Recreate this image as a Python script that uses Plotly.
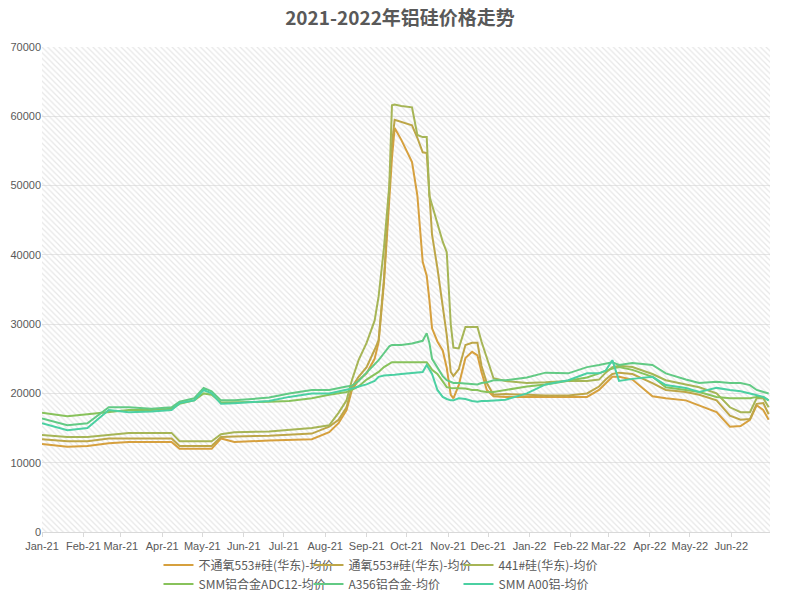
import plotly.graph_objects as go

TITLE = "2021-2022年铝硅价格走势"

DATES = [
    "2021-01-01", "2021-01-20", "2021-02-04", "2021-02-20", "2021-03-07", "2021-03-24",
    "2021-04-08", "2021-04-14", "2021-04-25", "2021-05-02", "2021-05-08", "2021-05-15",
    "2021-05-25", "2021-06-20", "2021-07-05", "2021-07-22", "2021-08-04", "2021-08-11",
    "2021-08-17", "2021-08-21", "2021-08-26", "2021-09-01", "2021-09-07", "2021-09-10",
    "2021-09-14", "2021-09-18", "2021-09-20", "2021-09-22", "2021-09-27", "2021-10-05",
    "2021-10-09", "2021-10-13", "2021-10-16", "2021-10-18", "2021-10-20", "2021-10-24",
    "2021-10-28", "2021-10-31", "2021-11-03", "2021-11-05", "2021-11-09", "2021-11-14",
    "2021-11-19", "2021-11-23", "2021-11-26", "2021-11-30", "2021-12-05", "2021-12-14",
    "2021-12-30", "2022-01-13", "2022-01-30", "2022-02-13", "2022-02-22", "2022-02-27",
    "2022-03-04", "2022-03-09", "2022-03-19", "2022-04-03", "2022-04-13", "2022-04-28",
    "2022-05-08", "2022-05-21", "2022-05-31", "2022-06-08", "2022-06-15", "2022-06-20",
    "2022-06-25", "2022-06-29",
]

SI553_NO_OXY = [
    12700, 12300, 12400, 12800, 13000, 13000, 13000, 12000, 12000, 12000, 12000, 13500,
    13000, 13200, 13300, 13400, 14400, 15700, 17600, 20500, 21900, 22900, 25000, 27400,
    36000, 48600, 54000, 58300, 56600, 53400, 48600, 39000, 37000, 33500, 29400, 27500,
    26200, 23700, 19800, 19300, 21200, 25100, 26000, 25500, 23100, 20500, 19600, 19500,
    19500, 19400, 19400, 19500, 20500, 21500, 22400, 22400, 22000, 19600, 19300, 19000,
    18300, 17300, 15200, 15300, 16200, 18300, 17600, 16200,
]

SI553_OXY = [
    13400, 13100, 13100, 13500, 13500, 13500, 13500, 12400, 12400, 12400, 12400, 13700,
    13800, 13900, 14000, 14200, 15200, 16200, 18000, 20900, 22400, 23800, 26300, 27700,
    36500, 49000, 56000, 59500, 59200, 58700, 56900, 54800, 54700, 48600, 42900, 38100,
    32300, 28400, 23100, 22500, 23500, 27000, 27300, 27300, 24000, 21500, 19800, 19900,
    19800, 19700, 19700, 20000, 21000, 22000, 22800, 23000, 22800, 21500, 20500, 20200,
    19800, 19000, 16800, 16200, 16300, 18500, 18600, 17000,
]

SI441 = [
    14000, 13700, 13700, 14000, 14300, 14300, 14300, 13100, 13100, 13100, 13100, 14100,
    14400, 14500, 14700, 15000, 15400, 17200, 19000, 21900, 24800, 27300, 30500, 34000,
    41000, 50000, 61600, 61700, 61500, 61300, 57300, 57000, 57000, 48500, 47200, 44700,
    41900, 40400, 30000, 26600, 26500, 29600, 29600, 29600, 27500, 25100, 22200, 21800,
    21500, 21600, 21800, 21800, 22000, 23000, 23800, 24000, 23800, 22800, 21900, 21300,
    20900, 20000, 18000, 17300, 17300, 19300, 19300, 18000,
]

ADC12 = [
    17200, 16700, 17000, 17300, 17600, 17600, 17800, 18500, 19000, 20000, 19800, 18700,
    18700, 18800, 18900, 19300, 19800, 20000, 20200, 20500, 21000, 22000, 22800, 23100,
    23800, 24300, 24500, 24500, 24500, 24500, 24500, 24500, 24500, 24000, 23400, 22800,
    21800, 20900, 20800, 20800, 20800, 20700, 20500, 20500, 20300, 20200, 20200, 20500,
    21000, 21300, 21800, 22300, 22900, 23300, 23600, 23800, 23400, 22400, 20900, 20500,
    20200, 19500, 19300, 19300, 19300, 19500, 19500, 19000,
]

A356 = [
    16400, 15400, 15700, 18000, 18000, 17800, 18000, 18800, 19300, 20800, 20300, 19000,
    19000, 19400, 20000, 20500, 20500, 20800, 21000, 21100, 21800, 23000, 24200, 24800,
    25800, 26800, 27000, 27000, 27000, 27200, 27400, 27600, 28700, 27300, 25000, 23800,
    22500, 21900, 21600, 21500, 21500, 21400, 21300, 21300, 21500, 21600, 21900, 21900,
    22300, 23000, 22900, 23800, 24100, 24300, 24500, 24100, 24400, 24100, 22900, 22000,
    21500, 21700, 21500, 21500, 21200, 20500, 20200, 20000,
]

A00 = [
    15700, 14700, 15000, 17600, 17300, 17400, 17600, 18600, 19000, 20500, 20000, 18500,
    18600, 18900, 19500, 20000, 20000, 20300, 20500, 20700, 21000, 21300, 21800, 22400,
    22600, 22700, 22700, 22700, 22800, 22900, 23000, 23100, 24100, 23500, 22800, 20500,
    19500, 19200, 19000, 19000, 19300, 19200, 18900, 18800, 18900, 18900, 19000, 19100,
    20000, 21300, 21900, 22900, 22900, 23300, 24800, 21800, 22100, 22400, 21200, 20800,
    20200, 20800, 20500, 20300, 20000, 19700, 19500, 19000,
]

SERIES_NAMES = [
    "不通氧553#硅(华东)-均价", "通氧553#硅(华东)-均价", "441#硅(华东)-均价",
    "SMM铝合金ADC12-均价", "A356铝合金-均价", "SMM A00铝-均价",
]
SERIES_VALUES = [SI553_NO_OXY, SI553_OXY, SI441, ADC12, A356, A00]
SERIES_COLORS = ["#D6A03E", "#BDA648", "#A6B556", "#88C25B", "#62CA84", "#4BD0A2"]

X_START, X_END = "2021-01-01", "2022-06-30"
Y_MAX = 70000

fig = go.Figure()

# hatched plot background
fig.add_trace(go.Scatter(
    x=[X_START, X_END, X_END, X_START, X_START],
    y=[0, 0, Y_MAX, Y_MAX, 0],
    mode="none", fill="toself",
    fillpattern=dict(shape="\\", fgcolor="#cfcfcf", bgcolor="rgba(0,0,0,0)", size=4, solidity=0.3),
    hoverinfo="skip", showlegend=False,
))

for i, (name, vals, col) in enumerate(zip(SERIES_NAMES, SERIES_VALUES, SERIES_COLORS)):
    fig.add_trace(go.Scatter(
        x=DATES, y=vals, name=name, mode="lines",
        line=dict(color=col, width=2),
        legend="legend" if i < 3 else "legend2",
    ))

legend_common = dict(
    orientation="h", xanchor="left", yanchor="middle",
    font=dict(family="Noto Sans CJK SC, sans-serif", size=12, color="#595959"),
    entrywidth=105, itemwidth=30, bgcolor="rgba(0,0,0,0)",
    tracegroupgap=0,
)

TICK_FONT = dict(family="Liberation Sans, Arial, sans-serif", size=11, color="#595959")

fig.update_layout(
    width=800, height=601,
    margin=dict(l=42, r=30, t=47, b=69, autoexpand=False),
    paper_bgcolor="white", plot_bgcolor="white",
    title=dict(text="<b>" + TITLE + "</b>", x=0.5, xanchor="center", y=0.97, yanchor="middle",
               font=dict(family="Noto Sans CJK SC, sans-serif", size=19, color="#595959")),
    legend=dict(x=0.16, y=-0.068, **legend_common),
    legend2=dict(x=0.16, y=-0.107, **legend_common),
    xaxis=dict(
        type="date", range=[X_START, X_END],
        tick0="2021-01-01", dtick="M1", tickformat="%b-%y", tickangle=0,
        showgrid=False, showline=True, linecolor="#d9d9d9", linewidth=1,
        ticks="outside", ticklen=4, tickcolor="#d9d9d9",
        tickfont=TICK_FONT, zeroline=False,
    ),
    yaxis=dict(
        range=[0, Y_MAX], dtick=10000, tickformat="d",
        showgrid=True, gridcolor="#e6e6e6", gridwidth=1,
        showline=False, zeroline=False, ticks="",
        tickfont=TICK_FONT,
    ),
    showlegend=True,
)

fig.write_html("out.html", config={"displayModeBar": False})
